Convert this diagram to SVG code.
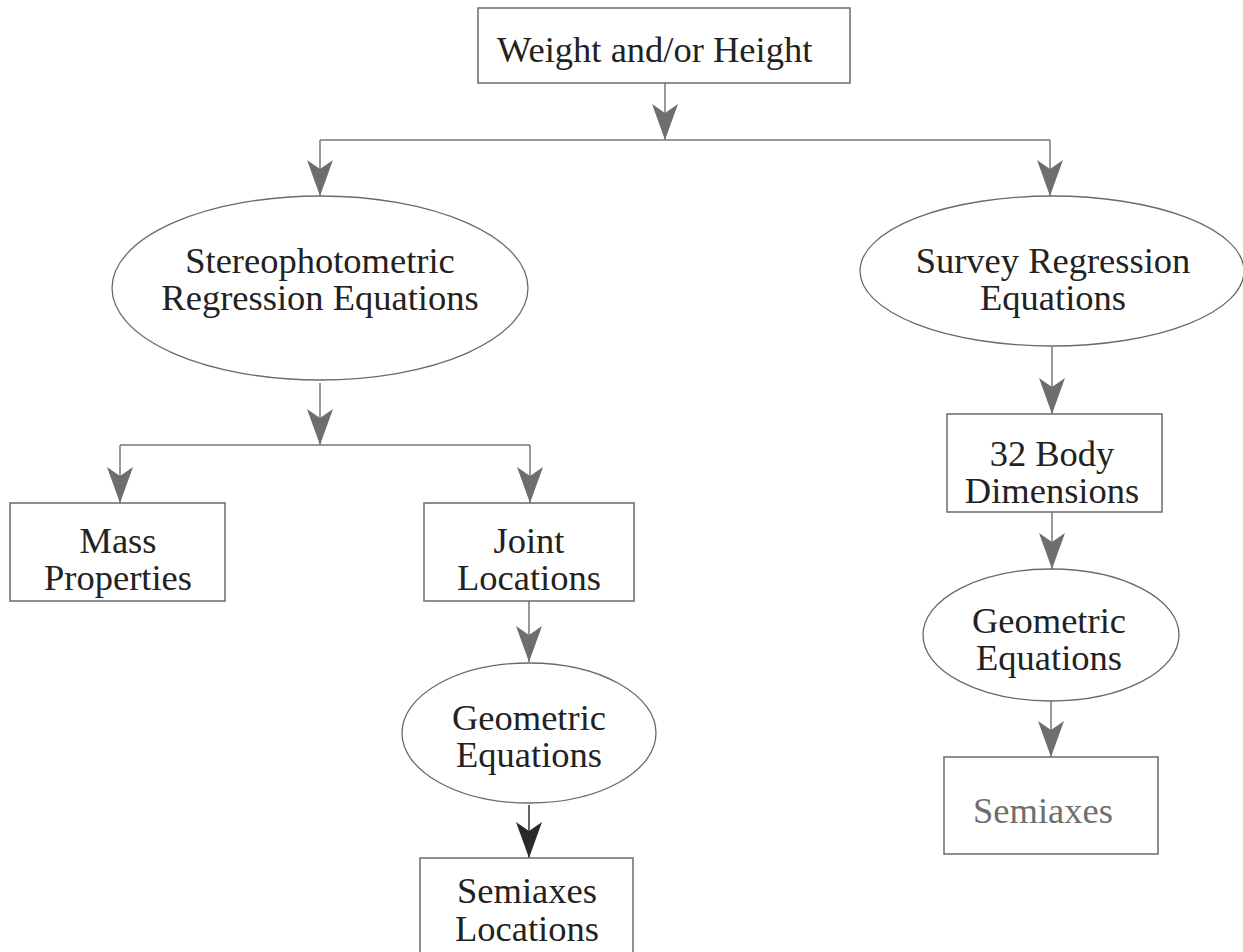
<svg xmlns="http://www.w3.org/2000/svg" width="1243" height="952" viewBox="0 0 1243 952">
<defs>
<marker id="ah" markerUnits="userSpaceOnUse" markerWidth="30" markerHeight="40" viewBox="-15 -38 30 40" refX="0" refY="0" orient="0">
<path d="M0,0 L-13,-36 L0,-27 L13,-36 Z" fill="#6e6e6e"/>
</marker>
<marker id="ahd" markerUnits="userSpaceOnUse" markerWidth="30" markerHeight="40" viewBox="-15 -38 30 40" refX="0" refY="0" orient="0">
<path d="M0,0 L-13,-36 L0,-27 L13,-36 Z" fill="#2a2a2a"/>
</marker>
<style>
.box{fill:#fff;stroke:#6a6a6a;stroke-width:1.5}
.ell{fill:#fff;stroke:#6a6a6a;stroke-width:1.3}
.t{font-family:"Liberation Serif","Times New Roman",serif;font-size:36.5px;fill:#222;text-anchor:middle}
.c{fill:none;stroke:#777;stroke-width:1.5}
</style>
</defs>
<rect width="1243" height="952" fill="#fff"/>
<g id="connectors">
<path class="c" d="M665,83 V140" marker-end="url(#ah)"/>
<path class="c" d="M320,140 H1050"/>
<path class="c" d="M320,140 V196" marker-end="url(#ah)"/>
<path class="c" d="M1050,140 V196" marker-end="url(#ah)"/>
<path class="c" d="M320,383 V445" marker-end="url(#ah)"/>
<path class="c" d="M120,445 H530"/>
<path class="c" d="M120,445 V503" marker-end="url(#ah)"/>
<path class="c" d="M530,445 V503" marker-end="url(#ah)"/>
<path class="c" d="M529,601 V662" marker-end="url(#ah)"/>
<path d="M529,805 V858" fill="none" stroke="#333" stroke-width="1.5" marker-end="url(#ahd)"/>
<path class="c" d="M1052,347 V414" marker-end="url(#ah)"/>
<path class="c" d="M1052,512 V569" marker-end="url(#ah)"/>
<path class="c" d="M1051,701 V757" marker-end="url(#ah)"/>
</g>
<g id="n-top">
<rect class="box" x="478" y="8" width="372" height="75"/>
<text class="t" x="497" y="62" style="text-anchor:start">Weight and/or Height</text>
</g>
<g id="n-stereo">
<ellipse class="ell" cx="320" cy="288" rx="208" ry="92"/>
<text class="t" x="320" y="273">Stereophotometric</text>
<text class="t" x="320" y="310">Regression Equations</text>
</g>
<g id="n-survey">
<ellipse class="ell" cx="1052" cy="271" rx="192" ry="75"/>
<text class="t" x="1053" y="273">Survey Regression</text>
<text class="t" x="1053" y="310">Equations</text>
</g>
<g id="n-mass">
<rect class="box" x="10" y="503" width="215" height="98"/>
<text class="t" x="118" y="553">Mass</text>
<text class="t" x="118" y="590">Properties</text>
</g>
<g id="n-joint">
<rect class="box" x="424" y="503" width="210" height="98"/>
<text class="t" x="529" y="553">Joint</text>
<text class="t" x="529" y="590">Locations</text>
</g>
<g id="n-geo-left">
<ellipse class="ell" cx="529" cy="733" rx="127" ry="70"/>
<text class="t" x="529" y="730">Geometric</text>
<text class="t" x="529" y="767">Equations</text>
</g>
<g id="n-semi-loc">
<rect class="box" x="420" y="858" width="213" height="110"/>
<text class="t" x="527" y="903">Semiaxes</text>
<text class="t" x="527" y="941">Locations</text>
</g>
<g id="n-32body">
<rect class="box" x="947" y="414" width="215" height="98"/>
<text class="t" x="1052" y="466">32 Body</text>
<text class="t" x="1052" y="503">Dimensions</text>
</g>
<g id="n-geo-right">
<ellipse class="ell" cx="1051" cy="635" rx="128" ry="66"/>
<text class="t" x="1049" y="633">Geometric</text>
<text class="t" x="1049" y="670">Equations</text>
</g>
<g id="n-semi">
<rect class="box" x="944" y="757" width="214" height="97"/>
<text class="t" x="1043" y="823" style="fill:#6e6e6e">Semiaxes</text>
</g>
</svg>
